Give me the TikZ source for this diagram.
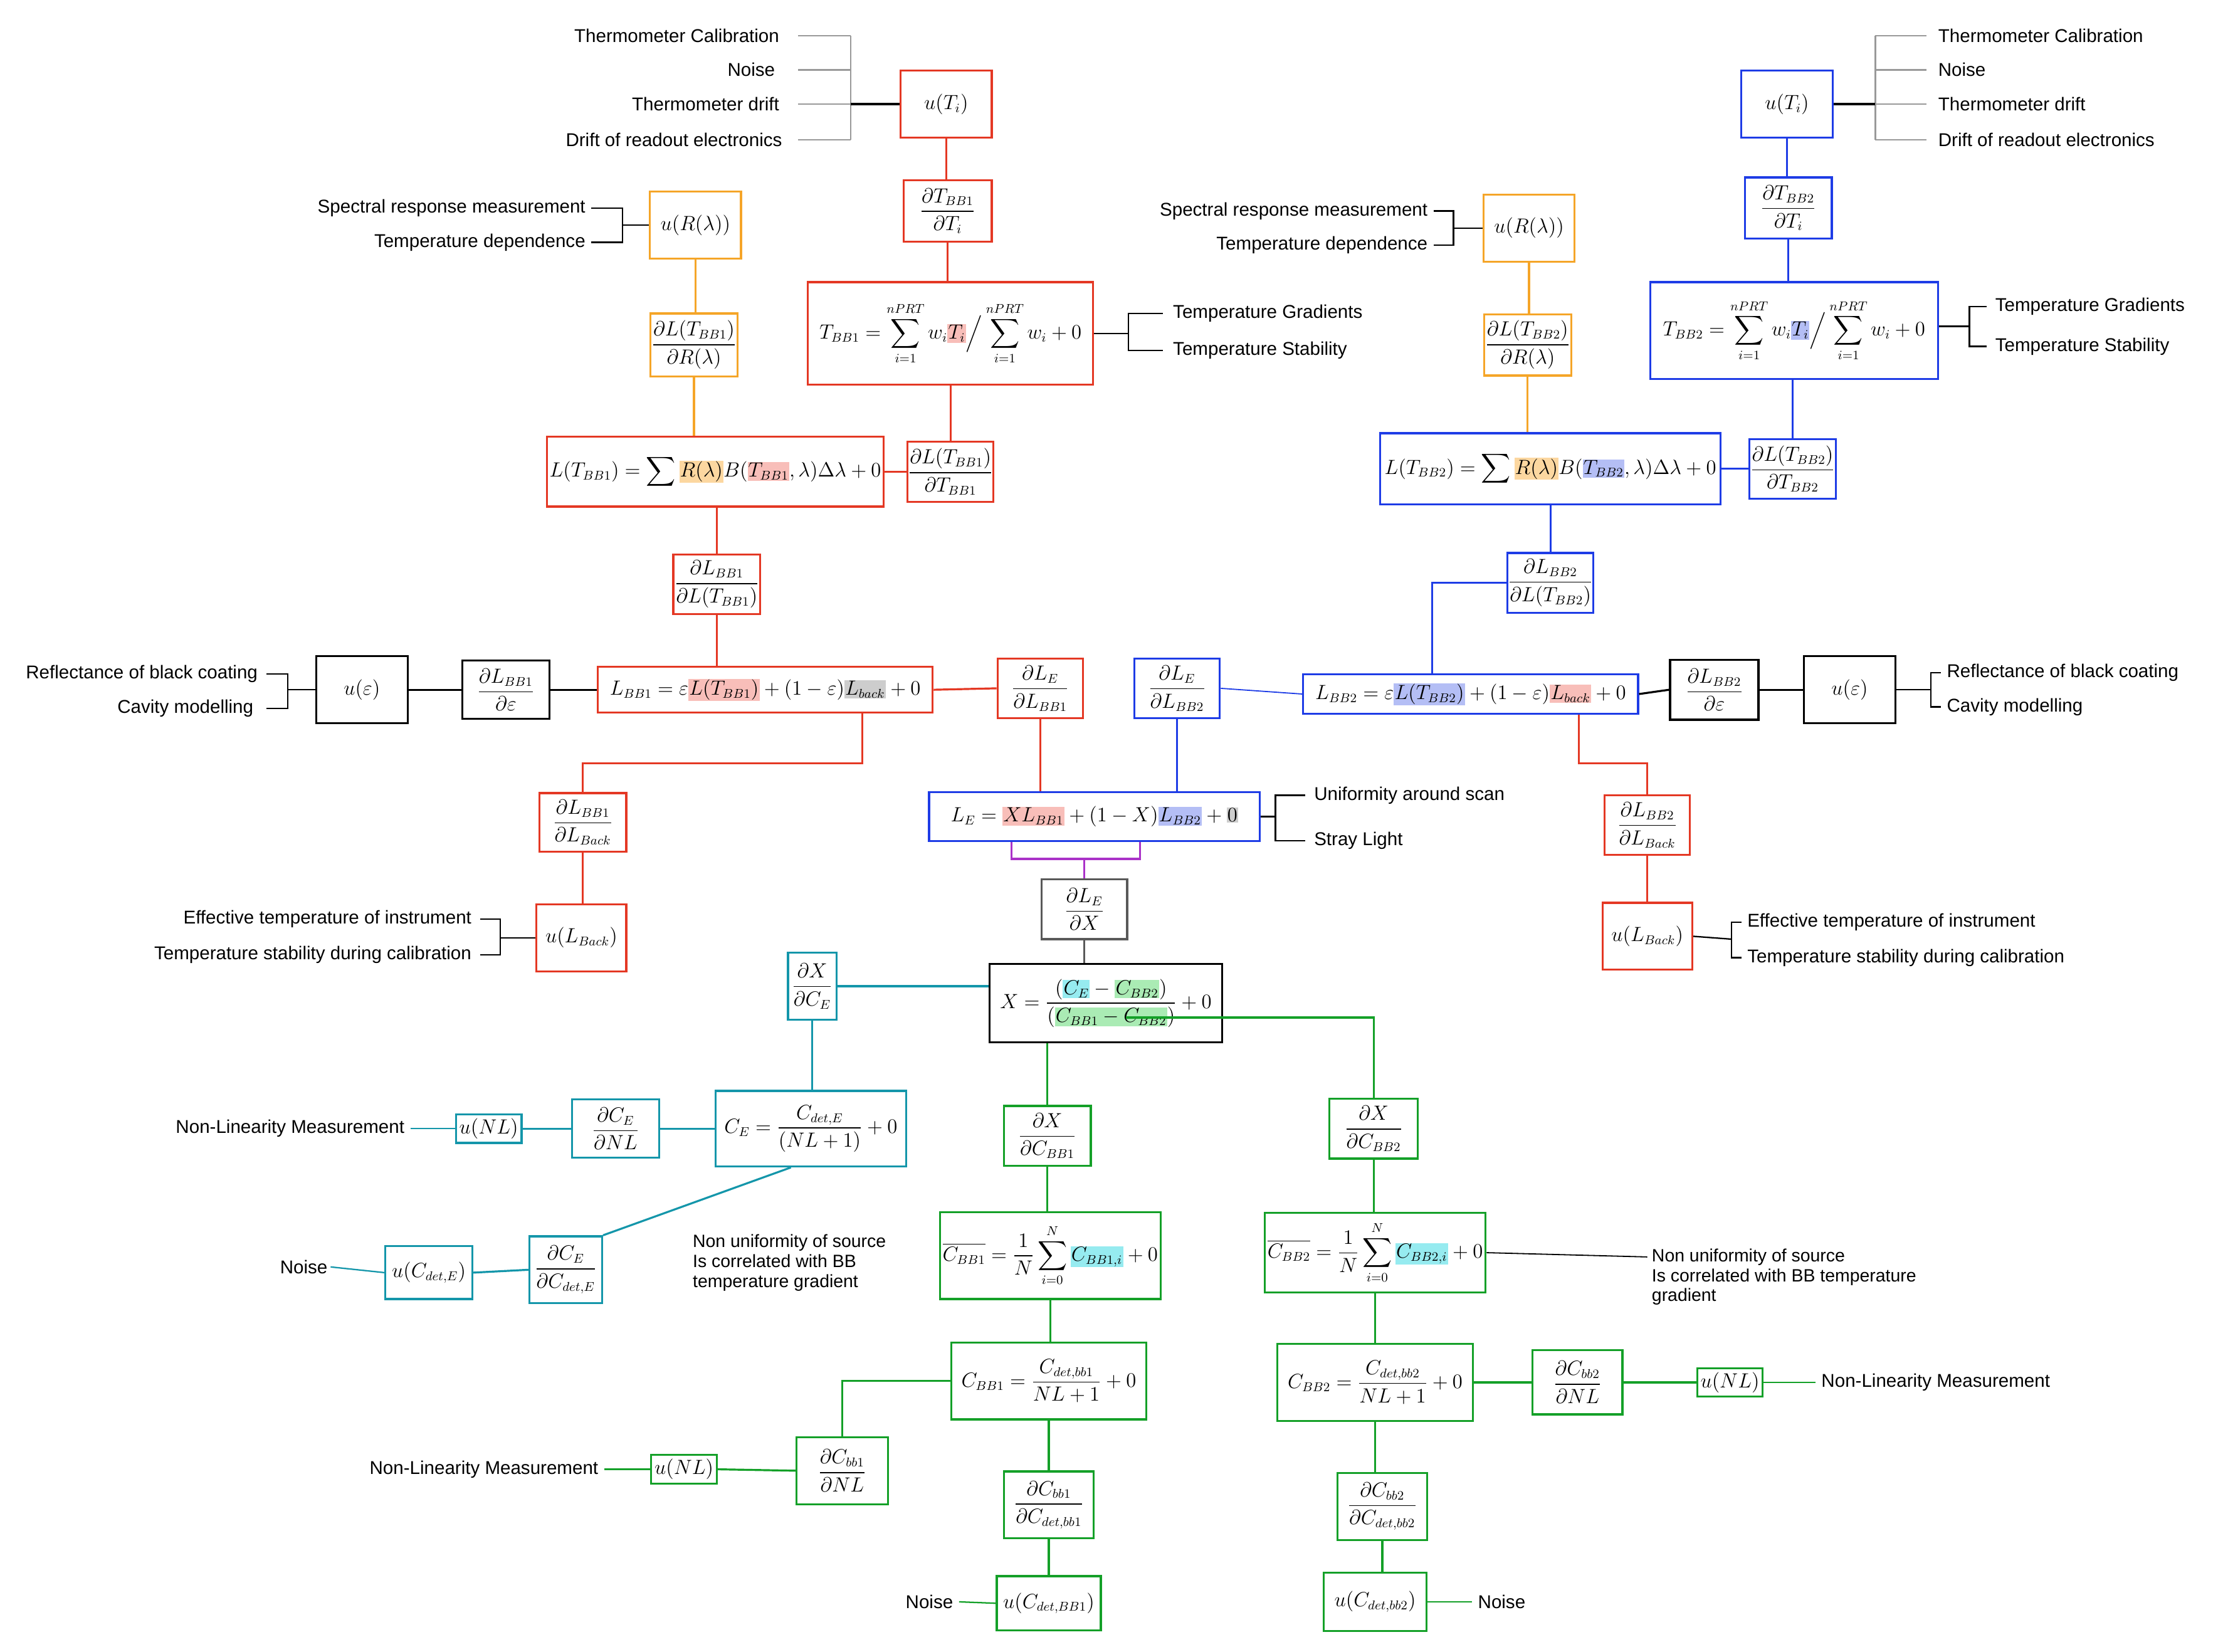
\documentclass[tikz,border=0pt]{standalone}
\usepackage{amsmath}
\usepackage{fontspec}
\setmainfont{Liberation Sans}
\definecolor{cR}{RGB}{228,56,36}
\definecolor{cO}{RGB}{245,165,40}
\definecolor{cB}{RGB}{30,60,230}
\definecolor{cT}{RGB}{20,150,170}
\definecolor{cG}{RGB}{20,160,40}
\definecolor{cP}{RGB}{170,50,200}
\definecolor{pk}{RGB}{248,190,185}
\definecolor{orh}{RGB}{252,215,160}
\definecolor{blh}{RGB}{180,190,245}
\definecolor{gyh}{RGB}{205,205,205}
\definecolor{cyh}{RGB}{150,235,240}
\definecolor{grh}{RGB}{170,235,180}
\newcommand{\hlt}[2]{\colorbox{#1}{$#2$}}
\setlength{\fboxsep}{0.5pt}
\tikzset{
 bx/.style={draw, line width=1.4pt, inner sep=0.5pt, font=\fontsize{13.5}{15}\selectfont, fill=white},
 rb/.style={bx, draw=cR}, ob/.style={bx, draw=cO}, bb/.style={bx, draw=cB},
 kb/.style={bx, draw=black}, tb/.style={bx, draw=cT}, gb/.style={bx, draw=cG},
 lab/.style={font=\fontsize{13}{15.5}\selectfont, inner sep=0pt},
 ln/.style={line width=1.4pt},
 rl/.style={ln, draw=cR}, ol/.style={ln, draw=cO}, bl/.style={ln, draw=cB},
 kl/.style={ln, draw=black}, tl/.style={ln, draw=cT}, gl/.style={ln, draw=cG},
 pl/.style={ln, draw=cP}, yl/.style={line width=1.1pt, draw=gray!80},
}
\begin{document}
\begin{tikzpicture}[x=1pt,y=-1pt]
\path[use as bounding box, fill=white] (0,0) rectangle (1560,1159);
% ===== left red =====
\node[rb,minimum width=64,minimum height=47] (uT1) at (664,73) {$u(T_i)$};
\node[rb,minimum width=62,minimum height=43] (dT1) at (665,148) {$\dfrac{\partial T_{BB1}}{\partial T_i}$};
\node[rb,minimum width=200,minimum height=72] (T1) at (667,234) {$T_{BB1}=\displaystyle\sum_{i=1}^{nPRT} w_i\hlt{pk}{T_i}\Big/\sum_{i=1}^{nPRT} w_i+0$};
\node[rb,minimum width=60,minimum height=42] (dLT1) at (667,331) {$\dfrac{\partial L(T_{BB1})}{\partial T_{BB1}}$};
\node[ob,minimum width=64,minimum height=47] (uR1) at (488,158) {$u(R(\lambda))$};
\node[ob,minimum width=61,minimum height=44] (dR1) at (487,242) {$\dfrac{\partial L(T_{BB1})}{\partial R(\lambda)}$};
\node[rb,minimum width=236,minimum height=49] (L1) at (502,331) {$L(T_{BB1})=\displaystyle\sum \hlt{orh}{R(\lambda)}B(\hlt{pk}{T_{BB1}},\lambda)\Delta\lambda+0$};
\node[rb,minimum width=61,minimum height=42] (dL1) at (503,410) {$\dfrac{\partial L_{BB1}}{\partial L(T_{BB1})}$};
\node[rb,minimum width=235,minimum height=32] (LB1) at (537,484) {$L_{BB1}=\varepsilon\hlt{pk}{L(T_{BB1})}+(1-\varepsilon)\hlt{gyh}{L_{back}}+0$};
\node[kb,minimum width=61,minimum height=41] (de1) at (355,484) {$\dfrac{\partial L_{BB1}}{\partial \varepsilon}$};
\node[kb,minimum width=64,minimum height=47] (ue1) at (254,484) {$u(\varepsilon)$};
\node[rb,minimum width=60,minimum height=42] (dE1) at (730,483) {$\dfrac{\partial L_E}{\partial L_{BB1}}$};
\node[rb,minimum width=61,minimum height=41] (dB1) at (409,577) {$\dfrac{\partial L_{BB1}}{\partial L_{Back}}$};
\node[rb,minimum width=63,minimum height=47] (uB1) at (408,658) {$u(L_{Back})$};
% ===== right blue =====
\node[bb,minimum width=64,minimum height=47] (uT2) at (1254,73) {$u(T_i)$};
\node[bb,minimum width=61,minimum height=43] (dT2) at (1255,146) {$\dfrac{\partial T_{BB2}}{\partial T_i}$};
\node[bb,minimum width=202,minimum height=68] (T2) at (1259,232) {$T_{BB2}=\displaystyle\sum_{i=1}^{nPRT} w_i\hlt{blh}{T_i}\Big/\sum_{i=1}^{nPRT} w_i+0$};
\node[bb,minimum width=60,minimum height=42] (dLT2) at (1258,329) {$\dfrac{\partial L(T_{BB2})}{\partial T_{BB2}}$};
\node[ob,minimum width=64,minimum height=47] (uR2) at (1073,160) {$u(R(\lambda))$};
\node[ob,minimum width=61,minimum height=43] (dR2) at (1072,242) {$\dfrac{\partial L(T_{BB2})}{\partial R(\lambda)}$};
\node[bb,minimum width=239,minimum height=50] (L2) at (1088,329) {$L(T_{BB2})=\displaystyle\sum \hlt{orh}{R(\lambda)}B(\hlt{blh}{T_{BB2}},\lambda)\Delta\lambda+0$};
\node[bb,minimum width=60,minimum height=42] (dL2) at (1088,409) {$\dfrac{\partial L_{BB2}}{\partial L(T_{BB2})}$};
\node[bb,minimum width=235,minimum height=28] (LB2) at (1032,487) {$L_{BB2}=\varepsilon\hlt{blh}{L(T_{BB2})}+(1-\varepsilon)\hlt{pk}{L_{back}}+0$};
\node[kb,minimum width=62,minimum height=42] (de2) at (1203,484) {$\dfrac{\partial L_{BB2}}{\partial \varepsilon}$};
\node[kb,minimum width=64,minimum height=47] (ue2) at (1298,484) {$u(\varepsilon)$};
\node[bb,minimum width=60,minimum height=42] (dE2) at (826,483) {$\dfrac{\partial L_E}{\partial L_{BB2}}$};
\node[rb,minimum width=60,minimum height=42] (dB2) at (1156,579) {$\dfrac{\partial L_{BB2}}{\partial L_{Back}}$};
\node[rb,minimum width=63,minimum height=47] (uB2) at (1156,657) {$u(L_{Back})$};
% ===== centre =====
\node[bb,minimum width=232,minimum height=34] (LE) at (768,573) {$L_E=\hlt{pk}{XL_{BB1}}+(1-X)\hlt{blh}{L_{BB2}}+\hlt{gyh}{0}$};
\node[kb,draw=gray!70!black,minimum width=60,minimum height=42] (dLX) at (761,638) {$\dfrac{\partial L_E}{\partial X}$};
\node[kb,minimum width=163,minimum height=55] (X) at (776,704) {$X=\dfrac{(\hlt{cyh}{C_E}-\hlt{grh}{C_{BB2}})}{(\hlt{grh}{C_{BB1}-C_{BB2}})}+0$};
\node[tb,minimum width=34,minimum height=47] (dXE) at (570,692) {$\dfrac{\partial X}{\partial C_E}$};
\node[tb,minimum width=134,minimum height=53] (CE) at (569,792) {$C_E=\dfrac{C_{det,E}}{(NL+1)}+0$};
\node[tb,minimum width=61,minimum height=41] (dCN) at (432,792) {$\dfrac{\partial C_E}{\partial NL}$};
\node[tb,minimum width=46,minimum height=20] (uNE) at (343,792) {$u(NL)$};
\node[tb,minimum width=51,minimum height=47] (dCd) at (397,891) {$\dfrac{\partial C_E}{\partial C_{det,E}}$};
\node[tb,minimum width=61,minimum height=37] (uCd) at (301,893) {$u(C_{det,E})$};
\node[gb,minimum width=61,minimum height=42] (dXB1) at (735,797) {$\dfrac{\partial X}{\partial C_{BB1}}$};
\node[gb,minimum width=155,minimum height=61] (Cm1) at (737,881) {$\overline{C_{BB1}}=\dfrac{1}{N}\displaystyle\sum_{i=0}^{N}\hlt{cyh}{C_{BB1,i}}+0$};
\node[gb,minimum width=137,minimum height=54] (C1) at (736,969) {$C_{BB1}=\dfrac{C_{det,bb1}}{NL+1}+0$};
\node[gb,minimum width=64,minimum height=47] (dN1) at (591,1032) {$\dfrac{\partial C_{bb1}}{\partial NL}$};
\node[gb,minimum width=46,minimum height=20] (uN1) at (480,1031) {$u(NL)$};
\node[gb,minimum width=63,minimum height=47] (dD1) at (736,1056) {$\dfrac{\partial C_{bb1}}{\partial C_{det,bb1}}$};
\node[gb,minimum width=73,minimum height=38] (uD1) at (736,1125) {$u(C_{det,BB1})$};
\node[gb,minimum width=62,minimum height=42] (dXB2) at (964,792) {$\dfrac{\partial X}{\partial C_{BB2}}$};
\node[gb,minimum width=155,minimum height=56] (Cm2) at (965,879) {$\overline{C_{BB2}}=\dfrac{1}{N}\displaystyle\sum_{i=0}^{N}\hlt{cyh}{C_{BB2,i}}+0$};
\node[gb,minimum width=137,minimum height=54] (C2) at (965,970) {$C_{BB2}=\dfrac{C_{det,bb2}}{NL+1}+0$};
\node[gb,minimum width=63,minimum height=45] (dN2) at (1107,970) {$\dfrac{\partial C_{bb2}}{\partial NL}$};
\node[gb,minimum width=46,minimum height=20] (uN2) at (1214,970) {$u(NL)$};
\node[gb,minimum width=63,minimum height=47] (dD2) at (970,1057) {$\dfrac{\partial C_{bb2}}{\partial C_{det,bb2}}$};
\node[gb,minimum width=72,minimum height=41] (uD2) at (965,1124) {$u(C_{det,bb2})$};
% ===== labels =====
\node[lab,anchor=east] (a1) at (547,25) {Thermometer Calibration};
\node[lab,anchor=east] (a2) at (544,49) {Noise};
\node[lab,anchor=east] (a3) at (547,73) {Thermometer drift};
\node[lab,anchor=east] (a4) at (549,98) {Drift of readout electronics};
\node[lab,anchor=west] (b1) at (1360,25) {Thermometer Calibration};
\node[lab,anchor=west] (b2) at (1360,49) {Noise};
\node[lab,anchor=west] (b3) at (1360,73) {Thermometer drift};
\node[lab,anchor=west] (b4) at (1360,98) {Drift of readout electronics};
\node[lab,anchor=east] (s1) at (411,146) {Spectral response measurement};
\node[lab,anchor=east] (s2) at (411,170) {Temperature dependence};
\node[lab,anchor=east] (s3) at (1002,148) {Spectral response measurement};
\node[lab,anchor=east] (s4) at (1002,172) {Temperature dependence};
\node[lab,anchor=west] (g1) at (823,220) {Temperature Gradients};
\node[lab,anchor=west] (g2) at (823,246) {Temperature Stability};
\node[lab,anchor=west] (g3) at (1400,215) {Temperature Gradients};
\node[lab,anchor=west] (g4) at (1400,243) {Temperature Stability};
\node[lab,anchor=east] (r1) at (181,473) {Reflectance of black coating};
\node[lab,anchor=east] (r2) at (178,497) {Cavity modelling};
\node[lab,anchor=west] (r3) at (1366,472) {Reflectance of black coating};
\node[lab,anchor=west] (r4) at (1366,496) {Cavity modelling};
\node[lab,anchor=east] (e1) at (331,645) {Effective temperature of instrument};
\node[lab,anchor=east] (e2) at (331,670) {Temperature stability during calibration};
\node[lab,anchor=west] (e3) at (1226,647) {Effective temperature of instrument};
\node[lab,anchor=west] (e4) at (1226,672) {Temperature stability during calibration};
\node[lab,anchor=west] (ul1) at (922,558) {Uniformity around scan};
\node[lab,anchor=west] (ul2) at (922,590) {Stray Light};
\node[lab,anchor=east] (nlE) at (284,792) {Non-Linearity Measurement};
\node[lab,anchor=east] (nzE) at (230,889) {Noise};
\node[lab,anchor=east] (nl1) at (420,1031) {Non-Linearity Measurement};
\node[lab,anchor=east] (nz1) at (669,1124) {Noise};
\node[lab,anchor=west] (nl2) at (1278,970) {Non-Linearity Measurement};
\node[lab,anchor=west] (nz2) at (1037,1124) {Noise};
\node[lab,anchor=north west,align=left,font=\fontsize{12.5}{14}\selectfont] (nu1) at (486,866) {Non uniformity of source\\Is correlated with BB\\temperature gradient};
\node[lab,anchor=north west,align=left,font=\fontsize{12.5}{14}\selectfont] (nu2) at (1159,876) {Non uniformity of source\\Is correlated with BB temperature\\gradient};
% ===== brackets =====
\foreach \y in {25,49,73,98} {\draw[yl] (560,\y) -- (597,\y); \draw[yl] (1316,\y) -- (1352,\y);}
\draw[yl] (597,25) -- (597,98); \draw[yl] (1316,25) -- (1316,98);
\draw[kl] (597,73) -- (uT1.west); \draw[kl] (uT2.east) -- (1316,73);
\draw[kl,line width=1pt] (415,146) -- (437,146) -- (437,170) -- (415,170); \draw[kl,line width=1pt] (437,158) -- (uR1.west);
\draw[kl,line width=1pt] (1006,148) -- (1020,148) -- (1020,172) -- (1006,172); \draw[kl,line width=1pt] (1020,160) -- (uR2.west);
\draw[kl,line width=1pt] (T1.east |- 0,234) -- (792,234); \draw[kl,line width=1pt] (816,220) -- (792,220) -- (792,246) -- (816,246);
\draw[kl,line width=1pt] (T2.east |- 0,229) -- (1382,229); \draw[kl,line width=1pt] (1394,215) -- (1382,215) -- (1382,243) -- (1394,243);
\draw[kl,line width=1pt] (187,473) -- (202,473) -- (202,497) -- (187,497); \draw[kl,line width=1pt] (202,484) -- (ue1.west);
\draw[kl,line width=1pt] (1362,472) -- (1355,472) -- (1355,496) -- (1362,496); \draw[kl,line width=1pt] (ue2.east) -- (1355,484);
\draw[kl,line width=1pt] (337,645) -- (351,645) -- (351,670) -- (337,670); \draw[kl,line width=1pt] (351,658) -- (uB1.west);
\draw[kl,line width=1pt] (1222,647) -- (1215,647) -- (1215,672) -- (1222,672); \draw[kl,line width=1pt] (uB2.east) -- (1215,659);
\draw[kl,line width=1pt] (LE.east) -- (895,573); \draw[kl,line width=1pt] (916,558) -- (895,558) -- (895,590) -- (916,590);
% ===== connectors =====
\draw[rl] (uT1.south) -- (uT1.south |- dT1.north);
\draw[rl] (dT1.south) -- (dT1.south |- T1.north);
\draw[rl] (dLT1.north) -- (dLT1.north |- T1.south);
\draw[rl] (L1.east) -- (dLT1.west);
\draw[ol] (uR1.south) -- (uR1.south |- dR1.north);
\draw[ol] (dR1.south) -- (dR1.south |- L1.north);
\draw[rl] (dL1.north) -- (dL1.north |- L1.south);
\draw[rl] (dL1.south) -- (dL1.south |- LB1.north);
\draw[kl] (ue1.east) -- (de1.west); \draw[kl] (de1.east) -- (LB1.west);
\draw[rl] (LB1.east) -- (dE1.west);
\draw[rl] (dE1.south) -- (dE1.south |- LE.north);
\draw[rl] ([xshift=68pt]LB1.south) -- ++(0,35) -| (dB1.north);
\draw[rl] (dB1.south) -- (dB1.south |- uB1.north);
\draw[bl] (uT2.south) -- (uT2.south |- dT2.north);
\draw[bl] (dT2.south) -- (dT2.south |- T2.north);
\draw[bl] (dLT2.north) -- (dLT2.north |- T2.south);
\draw[bl] (L2.east) -- (dLT2.west);
\draw[ol] (uR2.south) -- (uR2.south |- dR2.north);
\draw[ol] (dR2.south) -- (dR2.south |- L2.north);
\draw[bl] (dL2.north) -- (dL2.north |- L2.south);
\draw[bl] (dL2.west) -| ([xshift=-27pt]LB2.north);
\draw[kl] (LB2.east) -- (de2.west); \draw[kl] (de2.east) -- (ue2.west);
\draw[cB,line width=0.8pt] (dE2.east) -- (LB2.west);
\draw[bl] (dE2.south) -- (dE2.south |- LE.north);
\draw[rl] ([xshift=76pt]LB2.south) -- ++(0,34) -| (dB2.north);
\draw[rl] (dB2.south) -- (dB2.south |- uB2.north);
\draw[pl] ([xshift=-58pt]LE.south) -- ++(0,12) -| ([xshift=32pt]LE.south);
\coordinate (pm) at (761,602);
\draw[pl] (pm) -- (dLX.north);
\draw[kl,draw=gray!70!black] (dLX.south) -- (dLX.south |- X.north);
\draw[tl] (dXE.east) -- (X.west |- dXE.east);
\draw[tl] (dXE.south) -- (dXE.south |- CE.north);
\draw[tl] (CE.west) -- (dCN.east); \draw[tl] (dCN.west) -- (uNE.east); \draw[tl,line width=1pt] (nlE.east) ++(4,0) -- (uNE.west);
\draw[tl] ([xshift=-14pt]CE.south) -- (dCd.north east);
\draw[tl] (uCd.east) -- (dCd.west); \draw[tl,line width=1pt] ([xshift=2pt]nzE.east) -- (uCd.west);
\draw[gl] (dXB1.north |- X.south) -- (dXB1.north);
\draw[gl] (dXB1.south) -- (dXB1.south |- Cm1.north);
\draw[gl] (Cm1.south) -- (Cm1.south |- C1.north);
\draw[gl] (C1.south) -- (C1.south |- dD1.north);
\draw[gl] (dD1.south) -- (dD1.south |- uD1.north);
\draw[gl] (C1.west) -| (dN1.north);
\draw[gl] (uN1.east) -- (dN1.west); \draw[gl,line width=1pt] ([xshift=4pt]nl1.east) -- (uN1.west);
\draw[gl,line width=1pt] ([xshift=4pt]nz1.east) -- (uD1.west);
\coordinate (xb) at (790,714);
\draw[gl] (xb) -| (dXB2.north);
\draw[gl] (dXB2.south) -- (dXB2.south |- Cm2.north);
\draw[gl] (Cm2.south) -- (Cm2.south |- C2.north);
\draw[gl] (C2.south) -- (C2.south |- dD2.north);
\draw[gl] (dD2.south) -- (dD2.south |- uD2.north);
\draw[gl] (C2.east) -- (dN2.west); \draw[gl] (dN2.east) -- (uN2.west); \draw[gl,line width=1pt] (uN2.east) -- ([xshift=-4pt]nl2.west);
\draw[gl,line width=1pt] (uD2.east) -- ([xshift=-4pt]nz2.west);
\draw[kl,line width=0.8pt] (Cm2.east) -- ([xshift=-3pt,yshift=-6pt]nu2.north west);
\end{tikzpicture}
\end{document}
